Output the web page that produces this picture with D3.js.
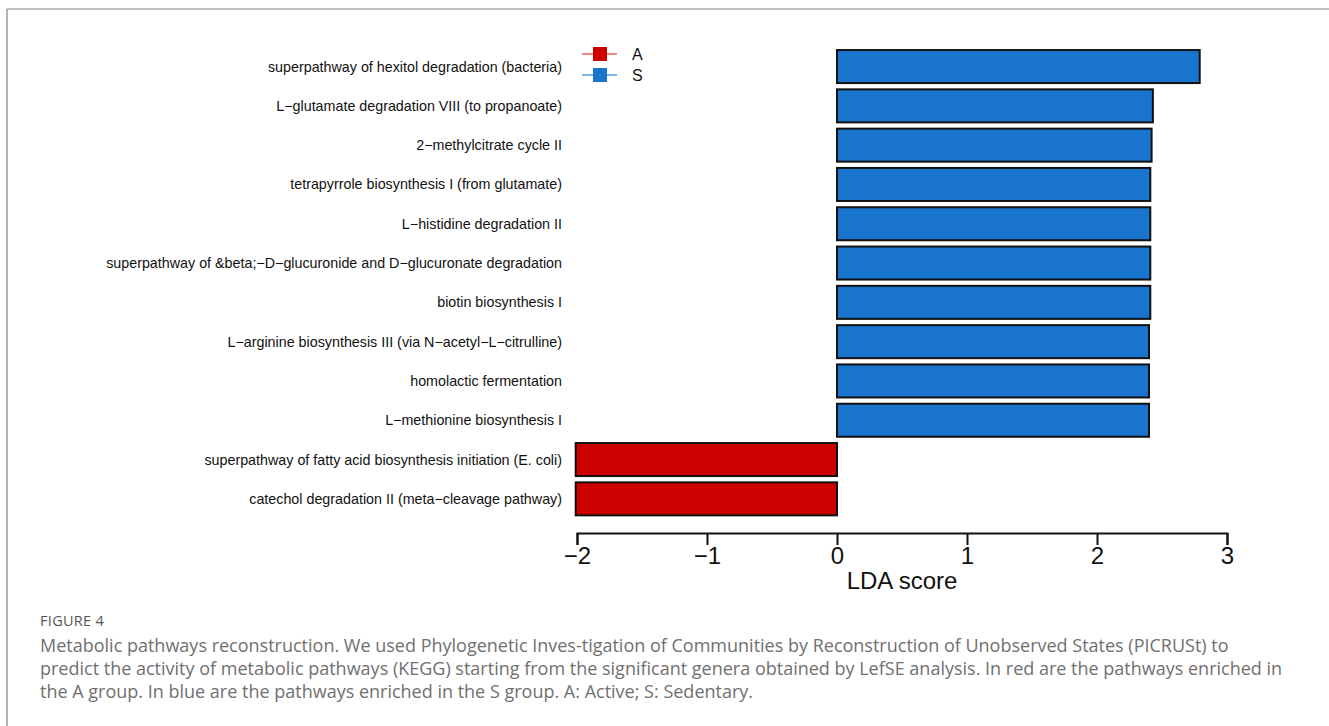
<!DOCTYPE html>
<html>
<head>
<meta charset="utf-8">
<script src="https://cdn.jsdelivr.net/npm/d3@7/dist/d3.min.js"></script>
<style>
  html, body { margin: 0; padding: 0; background: #fff; }
  svg { display: block; }
</style>
</head>
<body>
<script>
// LEfSe results on PICRUSt-predicted pathways (LDA score, negative = enriched in A)
const pathways = [
  "superpathway of hexitol degradation (bacteria)",
  "L\u2212glutamate degradation VIII (to propanoate)",
  "2\u2212methylcitrate cycle II",
  "tetrapyrrole biosynthesis I (from glutamate)",
  "L\u2212histidine degradation II",
  "superpathway of &beta;\u2212D\u2212glucuronide and D\u2212glucuronate degradation",
  "biotin biosynthesis I",
  "L\u2212arginine biosynthesis III (via N\u2212acetyl\u2212L\u2212citrulline)",
  "homolactic fermentation",
  "L\u2212methionine biosynthesis I",
  "superpathway of fatty acid biosynthesis initiation (E. coli)",
  "catechol degradation II (meta\u2212cleavage pathway)"
];
const ldaScores = [2.79, 2.43, 2.42, 2.41, 2.41, 2.41, 2.41, 2.40, 2.40, 2.40, -2.01, -2.01];
const groups = ["S", "S", "S", "S", "S", "S", "S", "S", "S", "S", "A", "A"];
const legendGroups = ["A", "S"];
const xTicks = [-2, -1, 0, 1, 2, 3];
const captionTitle = "FIGURE 4";
const captionLines = [
  "Metabolic pathways reconstruction. We used Phylogenetic Inves-tigation of Communities by Reconstruction of Unobserved States (PICRUSt) to",
  "predict the activity of metabolic pathways (KEGG) starting from the significant genera obtained by LefSE analysis. In red are the pathways enriched in",
  "the A group. In blue are the pathways enriched in the S group. A: Active; S: Sedentary."
];

const W = 1329, H = 726;
const groupColor = { A: "#CD0000", S: "#1874CD" };
const legendLine = { A: "#E06060", S: "#5A9BDD" };

const svg = d3.select("body").append("svg")
  .attr("width", W).attr("height", H);

// panel frame (top and left rules)
svg.append("line").attr("x1", 7).attr("x2", W).attr("y1", 9).attr("y2", 9)
  .attr("stroke", "#a8a8a8").attr("stroke-width", 1.6);
svg.append("line").attr("x1", 7).attr("x2", 7).attr("y1", 9).attr("y2", H)
  .attr("stroke", "#a0a0a0").attr("stroke-width", 1.6);

const x = d3.scaleLinear().domain([-2, 3]).range([577, 1227]);
const y = d3.scaleBand().domain(pathways).range([46.9, 518.5])
  .paddingInner(0.16).paddingOuter(0.08);

const font = "'Liberation Sans', Arial, Helvetica, sans-serif";

// bars
svg.append("g").selectAll("rect")
  .data(pathways)
  .join("rect")
  .attr("x", (d, i) => x(Math.min(0, ldaScores[i])))
  .attr("y", d => y(d))
  .attr("width", (d, i) => Math.abs(x(ldaScores[i]) - x(0)))
  .attr("height", y.bandwidth())
  .attr("fill", (d, i) => groupColor[groups[i]])
  .attr("stroke", "#111")
  .attr("stroke-width", 2);

// pathway labels
svg.append("g").selectAll("text")
  .data(pathways)
  .join("text")
  .attr("x", 562)
  .attr("y", d => y(d) + y.bandwidth() / 2)
  .attr("dy", "0.35em")
  .attr("text-anchor", "end")
  .attr("font-family", font)
  .attr("font-size", 14.3)
  .attr("fill", "#111")
  .text(d => d);

// x axis
const axis = d3.axisBottom(x).tickValues(xTicks).tickSize(12).tickPadding(2)
  .tickFormat(d => d < 0 ? "\u2212" + Math.abs(d) : String(d));
const gx = svg.append("g").attr("transform", "translate(0,533)").call(axis);
gx.select(".domain").attr("stroke", "#111").attr("stroke-width", 2);
gx.selectAll(".tick line").attr("stroke", "#111").attr("stroke-width", 2);
gx.selectAll(".tick text")
  .attr("font-family", font).attr("font-size", 24).attr("fill", "#111");

svg.append("text")
  .attr("x", x(0.5)).attr("y", 589)
  .attr("text-anchor", "middle")
  .attr("font-family", font).attr("font-size", 24).attr("fill", "#111")
  .text("LDA score");

// legend
const lg = svg.append("g").selectAll("g")
  .data(legendGroups)
  .join("g")
  .attr("transform", (d, i) => `translate(600,${54 + i * 21})`);
lg.append("line").attr("x1", -18).attr("x2", 17)
  .attr("stroke", d => legendLine[d]).attr("stroke-width", 1.3);
lg.append("rect").attr("x", -7).attr("y", -7).attr("width", 14).attr("height", 14)
  .attr("fill", d => groupColor[d]);
lg.append("text").attr("x", 32).attr("dy", "0.35em")
  .attr("font-family", font).attr("font-size", 16).attr("fill", "#111")
  .text(d => d);

// caption
const capFont = "'Open Sans', 'Noto Sans', sans-serif";
svg.append("text")
  .attr("x", 40).attr("y", 626)
  .attr("font-family", capFont).attr("font-size", 14.5).attr("fill", "#555")
  .attr("letter-spacing", 0.3)
  .text(captionTitle);
svg.append("g").selectAll("text")
  .data(captionLines)
  .join("text")
  .attr("x", 40)
  .attr("y", (d, i) => 652 + i * 23)
  .attr("font-family", capFont).attr("font-size", 18).attr("fill", "#707070")
  .text(d => d);
</script>
</body>
</html>
